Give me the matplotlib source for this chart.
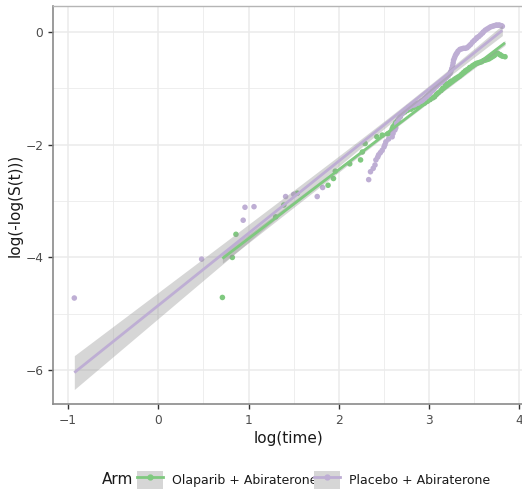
import numpy as np
import matplotlib
matplotlib.use("Agg")
import matplotlib.pyplot as plt
from matplotlib.lines import Line2D
from matplotlib.patches import Patch

arms = ["Olaparib + Abiraterone", "Placebo + Abiraterone"]
colors = ["#7FC97F", "#BEAED4"]

ola_x = [0.71, 0.82, 0.86, 1.30, 1.39, 1.54, 1.88, 1.94, 1.96, 2.12, 2.24, 2.26, 2.29,
         2.42, 2.48, 2.54, 2.57, 2.59, 2.60, 2.62, 2.63, 2.65, 2.66, 2.68, 2.70, 2.73,
         2.76, 2.80, 2.83, 2.86, 2.88, 2.92, 2.95, 2.98, 3.01, 3.04, 3.06, 3.08, 3.10,
         3.13, 3.15, 3.18, 3.20, 3.23, 3.25, 3.28, 3.30, 3.32, 3.34, 3.36, 3.38, 3.40,
         3.42, 3.44, 3.45, 3.48, 3.50, 3.52, 3.54, 3.56, 3.58, 3.60, 3.62, 3.64, 3.66,
         3.68, 3.70, 3.72, 3.73, 3.75, 3.76, 3.78, 3.79, 3.81, 3.84]
ola_y = [-4.71, -4.00, -3.59, -3.28, -3.07, -2.86, -2.72, -2.60, -2.47, -2.34, -2.27, -2.13, -1.98,
         -1.86, -1.83, -1.81, -1.80, -1.72, -1.68, -1.64, -1.61, -1.58, -1.56, -1.50, -1.45, -1.42,
         -1.39, -1.37, -1.34, -1.32, -1.30, -1.28, -1.26, -1.23, -1.20, -1.17, -1.15, -1.11, -1.08,
         -1.04, -1.00, -0.95, -0.92, -0.89, -0.87, -0.84, -0.82, -0.80, -0.78, -0.75, -0.72, -0.69,
         -0.67, -0.65, -0.63, -0.60, -0.58, -0.56, -0.55, -0.54, -0.53, -0.51, -0.50, -0.49, -0.48,
         -0.46, -0.44, -0.42, -0.40, -0.38, -0.38, -0.40, -0.41, -0.43, -0.44]

pla_x = [-0.93, 0.48, 0.94, 0.96, 1.06, 1.41, 1.50, 1.76, 1.82,
         2.33, 2.35, 2.38, 2.40, 2.41, 2.43, 2.44, 2.46, 2.48, 2.50, 2.51, 2.52, 2.55, 2.59,
         2.60, 2.62, 2.63, 2.64, 2.66, 2.68, 2.70, 2.72, 2.74, 2.77, 2.79, 2.82, 2.84, 2.86,
         2.88, 2.91, 2.93, 2.95, 2.97, 2.99, 3.01, 3.03, 3.05, 3.07, 3.09, 3.11, 3.13, 3.15,
         3.17, 3.19, 3.21, 3.23, 3.24, 3.25, 3.26, 3.265, 3.27, 3.28, 3.29, 3.30, 3.31, 3.32,
         3.34, 3.36, 3.38, 3.40, 3.42, 3.44, 3.46, 3.48, 3.50, 3.52, 3.53, 3.55, 3.57, 3.59,
         3.60, 3.62, 3.64, 3.66, 3.68, 3.70, 3.72, 3.74, 3.75, 3.77, 3.78, 3.80, 3.81]
pla_y = [-4.72, -4.03, -3.34, -3.11, -3.10, -2.92, -2.88, -2.92, -2.76,
         -2.62, -2.48, -2.42, -2.36, -2.27, -2.22, -2.18, -2.14, -2.10, -2.04, -2.00, -1.95, -1.90, -1.86,
         -1.80, -1.74, -1.70, -1.62, -1.55, -1.50, -1.45, -1.41, -1.38, -1.34, -1.32, -1.30, -1.29, -1.27,
         -1.26, -1.23, -1.21, -1.18, -1.15, -1.12, -1.09, -1.05, -1.02, -0.98, -0.95, -0.92, -0.90, -0.87,
         -0.84, -0.81, -0.78, -0.74, -0.70, -0.65, -0.60, -0.55, -0.50, -0.46, -0.42, -0.39, -0.37, -0.34,
         -0.31, -0.30, -0.29, -0.29, -0.28, -0.25, -0.22, -0.18, -0.15, -0.12, -0.10, -0.08, -0.05, -0.02,
         0.00, 0.03, 0.05, 0.07, 0.09, 0.10, 0.11, 0.12, 0.12, 0.12, 0.12, 0.11, 0.10]

x_ticks = [-1, 0, 1, 2, 3, 4]
y_ticks = [-6, -4, -2, 0]


def tq(df, z=1.959964):
    return z + (z**3 + z) / (4 * df) + (5 * z**5 + 16 * z**3 + 3 * z) / (96 * df**2)


def lm_fit(x, y, n=80):
    x = np.asarray(x); y = np.asarray(y)
    b, a = np.polyfit(x, y, 1)
    xs = np.linspace(x.min(), x.max(), n)
    ys = a + b * xs
    res = y - (a + b * x)
    dfree = len(x) - 2
    s = np.sqrt(np.sum(res**2) / dfree)
    se = s * np.sqrt(1 / len(x) + (xs - x.mean())**2 / np.sum((x - x.mean())**2))
    t = tq(dfree)
    return xs, ys, ys - t * se, ys + t * se


fig = plt.figure(figsize=(5.22, 4.92), dpi=100)
ax = fig.add_axes([53 / 522, 88 / 492, 471 / 522, 398 / 492])

ax.set_xlim(-1.166, 4.05)
ax.set_ylim(-6.6, 0.46)

for v in np.arange(-1.5, 4.5, 0.5):
    ax.axvline(v, color="#ebebeb", lw=0.6 if v % 1 else 1.1, zorder=0)
for v in np.arange(-7, 1.5, 1):
    ax.axhline(v, color="#ebebeb", lw=0.6 if v % 2 else 1.1, zorder=0)

data = [(ola_x, ola_y), (pla_x, pla_y)]
for (xx, yy), c in zip(data, colors):
    ax.scatter(xx, yy, s=16, color=c, edgecolors="none", zorder=2)

for (xx, yy), c in zip(data, colors):
    xs, ys, lo, hi = lm_fit(xx, yy)
    ax.fill_between(xs, lo, hi, color="#999999", alpha=0.4, lw=0, zorder=3)
    ax.plot(xs, ys, color=c, lw=2, zorder=4, solid_capstyle="butt")

ax.set_xticks(x_ticks)
ax.set_yticks(y_ticks)
ax.tick_params(axis="both", colors="#333333", labelcolor="#4d4d4d", labelsize=8.8,
               length=3.5, width=1)
for sp in ["left", "bottom"]:
    ax.spines[sp].set_color("#8a8a8a")
    ax.spines[sp].set_linewidth(1.2)
ax.spines["top"].set_color("#b5b5b5")
ax.spines["top"].set_linewidth(1.0)
ax.spines["right"].set_visible(False)

ax.set_xlabel("log(time)", fontsize=11, color="#1a1a1a", labelpad=3)
ax.set_ylabel("log(-log(S(t)))", fontsize=11, color="#1a1a1a", labelpad=2)

handles = [(Patch(facecolor="#d6d6d6", edgecolor="none"),
            Line2D([], [], color=c, lw=2, marker="o", markersize=3.5))
           for c in colors]
fig.text(102 / 522, 1 - 480 / 492, "Arm", fontsize=11, color="#1a1a1a", va="center", ha="left")
leg = fig.legend(handles, arms, loc="center left", bbox_to_anchor=(137 / 522, 1 - 480 / 492),
                 ncol=2, frameon=False, fontsize=9.0, handlelength=2.1, handleheight=1.9,
                 columnspacing=-0.3, handletextpad=0.7, borderaxespad=0, borderpad=0)
for t in leg.get_texts():
    t.set_color("#1a1a1a")

fig.savefig("out.png", dpi=100)
